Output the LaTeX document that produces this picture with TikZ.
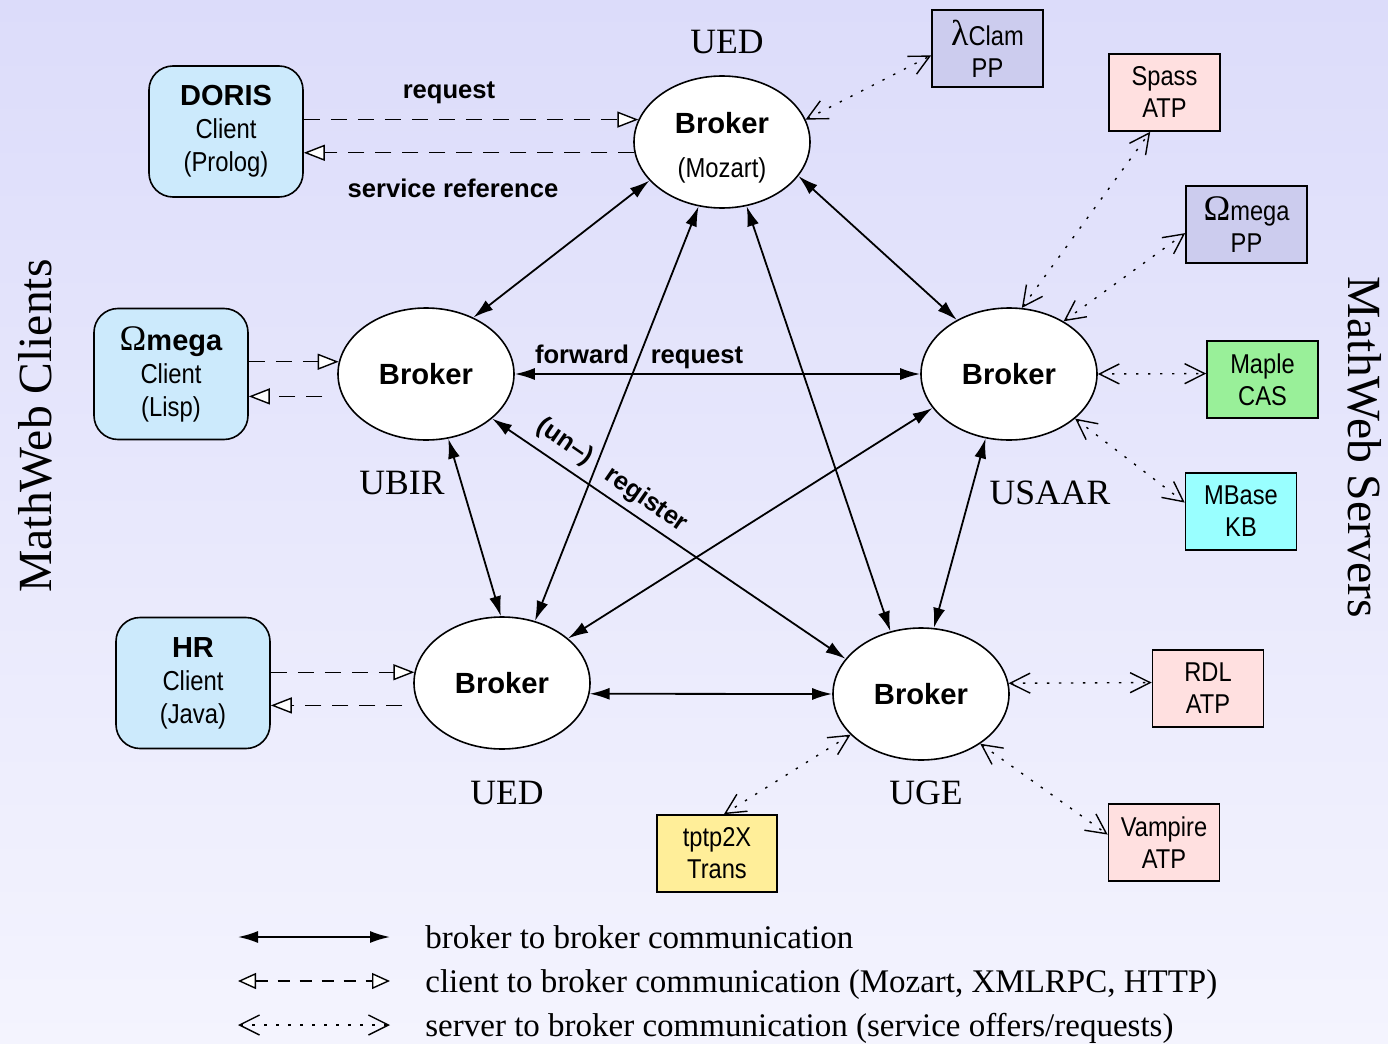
\documentclass[tikz,border=0pt]{standalone}
\usepackage{fontspec}
\setmainfont{Liberation Serif}
\setsansfont{Liberation Sans}
\newfontfamily\nsans{Liberation Sans}[FakeStretch=0.87]
\usetikzlibrary{arrows.meta,shapes.geometric}
\definecolor{bgtop}{RGB}{220,220,250}
\definecolor{bgbot}{RGB}{244,244,254}
\definecolor{clientc}{RGB}{204,234,252}
\definecolor{ppc}{RGB}{204,204,238}
\definecolor{atpc}{RGB}{255,224,224}
\definecolor{casc}{RGB}{153,240,153}
\definecolor{kbc}{RGB}{153,255,255}
\definecolor{transc}{RGB}{255,238,153}
\begin{document}
\begin{tikzpicture}[x=0.5pt,y=-0.5pt,
  broker/.style={ellipse, draw, line width=0.8pt, fill=white, minimum width=88pt, minimum height=66pt, inner sep=0pt, align=center, font=\sffamily\bfseries\fontsize{14.6}{17}\selectfont},
  client/.style={rectangle, rounded corners=12pt, draw, line width=0.8pt, fill=clientc, minimum width=77pt, minimum height=65.5pt, inner sep=0pt, align=center, font=\nsans\fontsize{13.7}{16.5}\selectfont},
  server/.style={rectangle, draw, line width=0.8pt, minimum width=55.5pt, minimum height=38.5pt, inner sep=0pt, align=center, font=\nsans\fontsize{13.6}{16}\selectfont},
  site/.style={font=\fontsize{17.8}{20}\selectfont},
  elab/.style={font=\sffamily\bfseries\fontsize{12.8}{15}\selectfont, inner sep=0pt},
  legtext/.style={font=\fontsize{16.5}{19}\selectfont, anchor=base west, inner sep=0pt},
  bb/.style={line width=0.9pt, arrows={Latex[length=10pt,width=6pt]-Latex[length=10pt,width=6pt]}},
  cl/.style={line width=0.7pt, dash pattern=on 8pt off 5.5pt, arrows={-Triangle[length=10.5pt,width=8pt,fill=white]}},
  sv/.style={line width=0.7pt, dash pattern=on 1.2pt off 4.8pt, arrows={Straight Barb[length=10pt,width=10pt]-Straight Barb[length=10pt,width=10pt]}},
  cllg/.style={line width=0.7pt, dash pattern=on 6pt off 5pt, arrows={Triangle[length=9pt,width=8pt,fill=white]-Triangle[length=9pt,width=8pt,fill=white]}},
]
\useasboundingbox (0,0) rectangle (1388,1044);
\shade[top color=bgtop, bottom color=bgbot] (0,0) rectangle (1388,1044);

% brokers
\node[broker] (bt) at (722,142) {\rule{0pt}{16pt}Broker\\[5pt]{\mdseries\nsans\fontsize{13.7}{14}\selectfont (Mozart)}};
\node[broker] (bl) at (426,374) {Broker};
\node[broker] (br) at (1009,374) {Broker};
\node[broker] (bbl) at (502,683) {Broker};
\node[broker] (bbr) at (921,694) {Broker};

% clients
\node[client] (doris) at (226,131.5) {{\sffamily\bfseries\fontsize{14.5}{16.5}\selectfont DORIS}\\Client\\(Prolog)};
\node[client] (omc) at (171,374) {{\fontsize{18}{16.5}\selectfont\rmfamily Ω}{\sffamily\bfseries\fontsize{14.5}{16.5}\selectfont mega}\\Client\\(Lisp)};
\node[client] (hr) at (193,683) {{\sffamily\bfseries\fontsize{14.5}{16.5}\selectfont HR}\\Client\\(Java)};

% servers
\node[server, fill=ppc] (lc) at (987.5,48.5) {{\rmfamily\fontsize{18}{16}\selectfont λ}Clam\\PP};
\node[server, fill=atpc] (spass) at (1164.5,92.5) {Spass\\ATP};
\node[server, fill=ppc, minimum width=60.5pt] (opp) at (1246.5,224.5) {{\rmfamily\fontsize{18}{16}\selectfont Ω}mega\\PP};
\node[server, fill=casc] (maple) at (1262.5,379.5) {Maple\\CAS};
\node[server, fill=kbc] (mbase) at (1241,511.5) {MBase\\KB};
\node[server, fill=atpc] (rdl) at (1208,688.5) {RDL\\ATP};
\node[server, fill=atpc] (vamp) at (1164,842.5) {Vampire\\ATP};
\node[server, fill=transc, minimum width=60pt] (tptp) at (717,853.5) {tptp2X\\Trans};

% site labels
\node[site] (s1) at (727,42) {UED};
\node[site] (s2) at (402,483) {UBIR};
\node[site] (s3) at (1050,493) {USAAR};
\node[site] (s4) at (507,793) {UED};
\node[site] (s5) at (926,793) {UGE};

% side labels
\node[font=\fontsize{23.8}{26}\selectfont, rotate=90] (mcl) at (35,426) {MathWeb Clients};
\node[font=\fontsize{23.8}{26}\selectfont, rotate=-90] (msv) at (1365,447) {MathWeb Servers};

% broker-broker
\draw[bb] (bt.208.5) -- (bl.50.4);
\draw[bb] (bt.336) -- (br.134.5);
\draw[bb] (bt.250) -- (bbl.62.8);
\draw[bb] (bt.291) -- (bbr.116.6);
\draw[bb] (bl.0) -- (br.180);
\draw[bb] (bl.289) -- (bbl.91);
\draw[bb] (bl.326.3) -- (bbr.155.2);
\draw[bb] (br.204.5) -- (bbl.34);
\draw[bb] (br.250.3) -- (bbr.79);
\draw[bb] (bbl.353.5) -- (bbr.180);

% client-broker
\draw[cl] (doris.east |- bt.165) -- (bt.165);
\draw[cl] (bt.187) -- (doris.east |- bt.187);
\draw[cl] (omc.east |- bl.172) -- (bl.172);
\draw[cl, shorten <=10pt] (bl.195) -- (omc.east |- bl.195);
\draw[cl] (hr.east |- bbl.173) -- (bbl.173);
\draw[cl, shorten <=8pt] (bbl.195) -- (hr.east |- bbl.195);

% server-broker
\draw[sv] (bt.15) -- (lc.187);
\draw[sv] (br.79) -- (spass.250);
\draw[sv] (br.44.5) -- (opp.188);
\draw[sv] (br.0) -- (maple.174);
\draw[sv] (br.326) -- (mbase.171);
\draw[sv] (bbr.7) -- (rdl.174);
\draw[sv] (bbr.320) -- (vamp.172);
\draw[sv] (bbr.210) -- (tptp.80);

% edge labels
\node[elab, anchor=base] (e1) at (449,98) {request};
\node[elab, anchor=base] (e2) at (453,197) {service reference};
\node[elab, anchor=base] (e3) at (582,363) {forward};
\node[elab, anchor=base] (e4) at (697,363) {request};
\node[elab, rotate=-34.6] (e5) at (565,442) {(un–)};
\node[elab, rotate=-34.6] (e6) at (646,500) {register};

% legend
\coordinate (la1) at (238,937); \coordinate (lb1) at (390,937);
\coordinate (la2) at (238,981); \coordinate (lb2) at (390,981);
\coordinate (la3) at (238,1025); \coordinate (lb3) at (390,1025);
\draw[bb] (la1) -- (lb1);
\draw[cllg] (la2) -- (lb2);
\draw[sv] (la3) -- (lb3);
\node[legtext] (lt1) at (425,948) {broker to broker communication};
\node[legtext] (lt2) at (425,992) {client to broker communication (Mozart, XMLRPC, HTTP)};
\node[legtext] (lt3) at (425,1036) {server to broker communication (service offers/requests)};
\end{tikzpicture}
\end{document}
